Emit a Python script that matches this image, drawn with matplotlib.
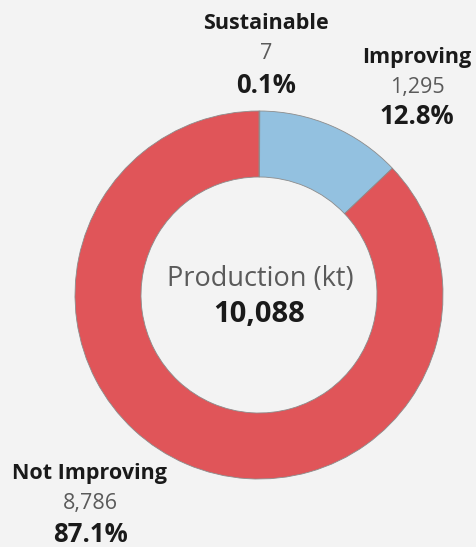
import matplotlib
matplotlib.use("Agg")
from matplotlib import pyplot as plt

# production by status (kt)
labels = ["Sustainable", "Improving", "Not Improving"]
values = [7, 1295, 8786]
colors = ["#6b8e5a", "#93c1e0", "#e05559"]

total = sum(values)

plt.rcParams["font.family"] = ["Open Sans", "DejaVu Sans"]

W, H = 476, 547
fig = plt.figure(figsize=(W / 100, H / 100), dpi=100)
fig.patch.set_facecolor("#f3f3f3")
ax = fig.add_axes([0, 0, 1, 1])

cx, cy = 259, H - 295
ax.pie(values, colors=colors, startangle=90, counterclock=False,
       center=(cx, cy), radius=184, frame=True,
       wedgeprops=dict(width=66, edgecolor="#8c8c8c", linewidth=0.6))
ax.set_xlim(0, W)
ax.set_ylim(0, H)
ax.set_aspect("equal")
ax.axis("off")

# label blocks: x centre and baselines of name / value / share rows
positions = {
    "Sustainable": (266, 29, 59, 93),
    "Improving": (417, 63, 93, 124),
    "Not Improving": (90, 479, 509, 542),
}
for name, v in zip(labels, values):
    x, y1, y2, y3 = positions[name]
    ax.text(x, H - y1, name, ha="center", va="baseline", fontsize=15.5,
            fontweight="bold", color="#1a1a1a")
    ax.text(x, H - y2, f"{v:,}", ha="center", va="baseline", fontsize=15.5,
            color="#5a5a5a")
    ax.text(x, H - y3, f"{v / total * 100:.1f}%", ha="center", va="baseline",
            fontsize=18.5, fontweight="bold", color="#1a1a1a")

ax.text(cx + 1, H - 286, "Production (kt)", ha="center", va="baseline",
        fontsize=19.5, color="#5a5a5a")
ax.text(cx, H - 322, f"{total:,}", ha="center", va="baseline", fontsize=21,
        fontweight="bold", color="#1a1a1a")

fig.savefig("out.png", dpi=100, facecolor=fig.get_facecolor())
